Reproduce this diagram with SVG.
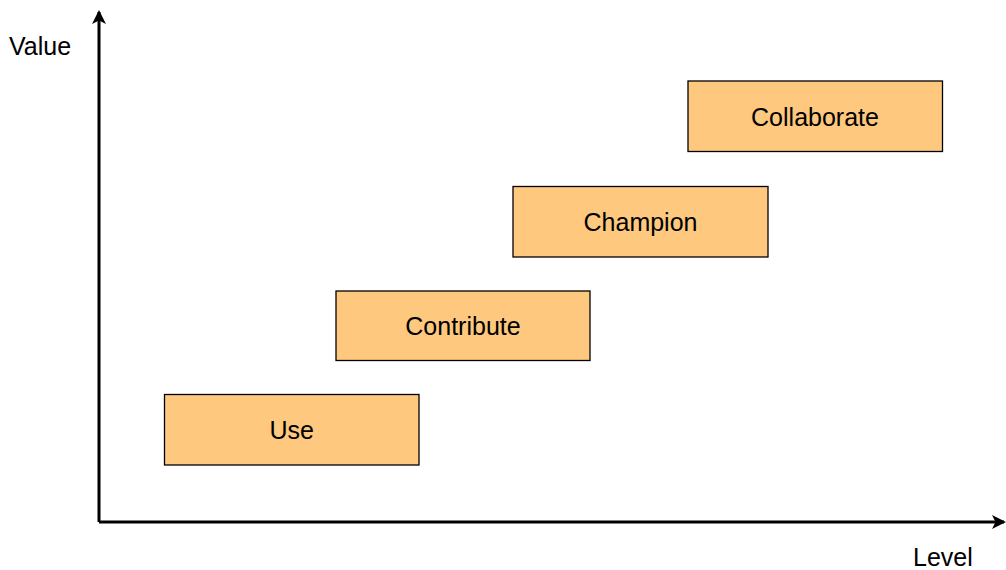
<svg xmlns="http://www.w3.org/2000/svg" width="1006" height="570" viewBox="0 0 1006 570">
<style>
.box{fill:#fec87f;stroke:#000;stroke-width:1.3}
.lbl{font-family:"Liberation Sans",Arial,sans-serif;font-size:25px;fill:#000}
.ax{stroke:#000;stroke-width:3;fill:none}
</style>
<defs>
<marker id="ah" markerWidth="16" markerHeight="16" refX="12" refY="7" orient="auto" markerUnits="userSpaceOnUse">
<path d="M0,0 L14,7 L0,14 L3.5,7 Z" fill="#000"/>
</marker>
</defs>
<g id="connectors">
<path class="ax" d="M99,522 L99,12" marker-end="url(#ah)"/>
<path class="ax" d="M99,522 L1004,522" marker-end="url(#ah)"/>
</g>
<g id="use"><rect class="box" x="164.5" y="394.5" width="254.5" height="70.5"/><text class="lbl" x="291.7" y="439" text-anchor="middle">Use</text></g>
<g id="contribute"><rect class="box" x="336" y="291" width="254" height="69.5"/><text class="lbl" x="463" y="335" text-anchor="middle">Contribute</text></g>
<g id="champion"><rect class="box" x="513" y="186.5" width="255" height="70.5"/><text class="lbl" x="640.5" y="231" text-anchor="middle">Champion</text></g>
<g id="collaborate"><rect class="box" x="688" y="81" width="254.5" height="70.5"/><text class="lbl" x="815" y="125.5" text-anchor="middle">Collaborate</text></g>
<g id="value"><text class="lbl" x="9" y="55">Value</text></g>
<g id="level"><text class="lbl" x="913" y="566">Level</text></g>
</svg>
